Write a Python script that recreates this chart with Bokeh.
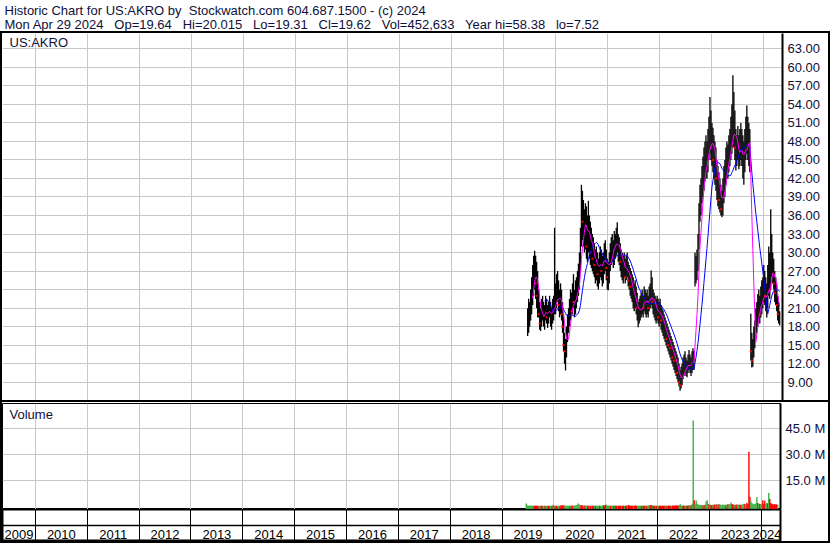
import numpy as np
import pandas as pd
from bokeh.plotting import figure
from bokeh.layouts import column
from bokeh.models import (Range1d, LinearAxis, Grid, FixedTicker, PrintfTickFormatter,
                          Label, ColumnDataSource)
from bokeh.core.properties import value
from bokeh.embed import file_html
from bokeh.resources import INLINE

# ---------------- data (weekly bars) ----------------
START_DATE = "2019-06-21"

HIGHS = [
    21, 22.5, 22, 24, 26, 28, 29.5, 30.3, 29.5, 28.5,
    27, 24, 22, 21, 22.5, 23, 22, 21.5, 23, 22.5,
    21.5, 22, 23, 22, 21, 22.5, 23, 34, 25, 26.5,
    27, 25.5, 24, 25, 24, 22, 20, 17, 16, 18,
    20, 21, 22.5, 24, 23.5, 25, 26.5, 24, 25.5, 26,
    27, 28.2, 30, 34, 41, 40, 38.5, 37, 38, 37.5,
    36, 38.4, 36, 35, 34, 33, 32.5, 31.5, 30.5, 31,
    30, 29, 30, 31, 30.5, 29.5, 30, 31.5, 32, 30.5,
    29, 28.5, 30, 31.5, 32.5, 33, 32, 33.5, 33, 34,
    34.9, 33, 32.5, 31.5, 30.5, 30, 29.5, 30, 29, 29.5,
    30, 28.5, 28, 27.5, 27, 26.5, 26, 25, 25.5, 24.5,
    23.5, 22, 22.5, 23, 23.5, 24, 23, 24.5, 24, 23.5,
    24, 23, 24.5, 25, 27.1, 26, 24, 23.5, 23, 22.5,
    23, 22.5, 22, 22.5, 21.5, 21, 20.6, 20, 19.5, 19,
    18.5, 18, 17.5, 17, 16.5, 16, 15.5, 15, 14.5, 14,
    13.5, 13, 12, 11, 11.5, 12, 13, 13.5, 14, 13,
    12.5, 13.5, 14.2, 13.5, 13, 14, 14.5, 14, 30, 29.5,
    30.5, 33, 38, 41, 42, 44, 45.5, 47, 48, 49,
    48, 50, 52, 55.2, 53, 51, 50.2, 49, 48, 47,
    45, 44, 43, 42, 41, 40, 42, 44, 45, 47,
    48, 47.5, 49, 50, 52, 54, 58.7, 56, 53, 50,
    49, 50.5, 49, 50, 51, 50, 49, 48, 50, 52,
    53.8, 52, 51, 50, 20.1, 17, 16, 18, 19, 21,
    22, 23.3, 24, 23, 24.5, 25.5, 26, 28, 27, 26,
    25, 28, 31, 30, 37, 33, 30, 29, 27, 26,
    25, 23, 22, 20.5,
]

LOWS = [
    16.5, 17, 18, 19, 20, 21.5, 23, 24, 22.5, 21,
    19.5, 19.5, 17.5, 17.3, 18, 19, 18, 17.5, 19, 18.5,
    17.8, 18.5, 19.5, 18, 17.5, 18.5, 19, 20, 20, 21,
    22, 20.5, 19.5, 20, 19, 17, 14, 12, 10.9, 13,
    15.5, 17, 18, 19, 19.5, 20, 21, 19.5, 20, 21,
    22, 23, 24, 27, 31, 32, 31, 30, 30.5, 29,
    28.5, 30, 29, 28, 27.5, 27, 26.5, 26, 25, 25.5,
    24.5, 24, 25, 26, 25.5, 24.5, 25, 26.5, 27, 25.5,
    24, 23.9, 25, 27, 28, 28.5, 27.5, 28, 29, 29.5,
    30, 28.5, 28, 27, 26, 25.5, 25, 26, 25, 25.5,
    26, 24.5, 24, 23, 22.5, 22, 21, 20.5, 21, 20,
    19, 17.9, 18.5, 19, 19.5, 20, 19.5, 20.5, 20, 19.5,
    20, 19.5, 20.5, 21, 21.5, 21, 20, 19.5, 19, 18.5,
    19, 18.5, 18, 18.5, 17.5, 17, 16.5, 16, 15.5, 15,
    14.5, 14, 13.5, 13, 12.5, 12, 11.5, 11, 10.5, 10,
    9.5, 9, 8.3, 7.6, 8, 8.5, 9.5, 10, 10.5, 10,
    9.8, 10.5, 11, 10.5, 10, 10.5, 11, 11, 24.5, 25,
    25.5, 27, 30.5, 35, 36, 38, 39, 40, 41.5, 42,
    42, 43, 45, 46, 45, 44, 43, 42, 41, 40,
    38.5, 37.5, 37, 36.5, 36, 35.7, 36, 38, 39, 41,
    42, 42, 43, 44, 45, 46, 47, 47, 45, 43.3,
    44, 45, 43.5, 44, 45, 44, 42, 41, 43, 45,
    46, 45, 44, 43, 12.5, 11.4, 11.5, 13, 14.5, 16,
    17, 18, 19, 18.5, 19.5, 20, 21, 22, 21.5, 20.5,
    19.5, 21, 23, 22.5, 24, 26, 25, 24, 22, 21.5,
    20.5, 19, 18.5, 18.2,
]

CLOSES = [
    19, 20.5, 21, 23, 25, 27, 28, 28, 25, 23,
    22, 20, 18.5, 19.5, 21, 20, 19, 20.5, 21.5, 19.5,
    20, 21, 20.5, 19.5, 20, 21.5, 21, 23, 22, 24,
    23, 21.5, 22, 23, 20, 18, 15, 14, 13.5, 16,
    18.5, 19, 21, 22.5, 20.5, 23.5, 22, 21, 23.5, 24,
    25.5, 26, 28.5, 32, 37, 35, 34, 33, 36, 31,
    33, 34, 32.5, 30, 31, 29, 29.5, 28, 27, 29,
    26.5, 27.5, 28.5, 29.5, 27, 28, 29, 30, 29, 27.5,
    26, 27, 29, 30, 31.5, 30.5, 31, 32, 30.5, 32.5,
    31.5, 30, 31, 28.5, 28, 27, 28.5, 27.5, 26, 28,
    27, 25.5, 26.5, 24.5, 24, 23, 22.5, 21.5, 23, 21,
    20, 19, 20.5, 21.5, 22, 22.5, 21, 23, 22, 21.5,
    23, 21, 22.5, 23.5, 24, 22, 21, 21.5, 20.5, 20,
    21, 19.5, 20, 20.5, 19, 18.5, 18, 17.5, 17, 16,
    16.5, 15, 15.5, 14.5, 14, 13, 13.5, 12.5, 12, 11.5,
    10.5, 10, 9, 8.5, 9.5, 10.5, 11.5, 12, 11.5, 11,
    11.5, 12.5, 12, 11.5, 12, 13, 12.5, 13, 27, 26.5,
    28, 31, 36, 38, 40, 41, 43, 45, 44, 46,
    44.5, 47, 49, 50, 47, 48, 45, 44, 46, 42,
    40, 41, 38.5, 39, 37, 37.5, 40, 42, 43.5, 44,
    46, 44.5, 47, 46, 49, 50.5, 52, 50, 47, 45,
    47.5, 46, 45, 47, 48, 46, 44, 45, 47, 49.5,
    48, 49, 47, 46.5, 14, 12.5, 14, 16, 17.5, 19,
    20.5, 21, 22.5, 20, 23, 22, 23.5, 25, 23, 22,
    21, 25, 27, 24, 29, 28, 27, 25, 23.5, 23,
    21.5, 20, 19.5, 19.62,
]

VOLUMES_M = [
    1.7, 0.5, 0.4, 0.3, 0.4, 0.5, 0.3, 0.4, 0.3, 0.3,
    0.4, 0.3, 0.3, 0.2, 0.3, 0.4, 0.3, 0.2, 0.3, 0.3,
    0.2, 0.3, 0.3, 0.4, 0.2, 0.3, 0.3, 0.9, 0.4, 0.3,
    0.3, 0.2, 0.3, 0.3, 0.4, 0.5, 0.7, 0.6, 0.5, 0.4,
    0.3, 0.3, 0.4, 0.3, 0.3, 0.4, 0.5, 0.3, 0.4, 0.5,
    0.6, 0.8, 1.6, 1.0, 0.9, 0.7, 0.6, 0.5, 0.4, 0.5,
    0.4, 0.5, 0.4, 0.3, 0.3, 0.4, 0.3, 0.4, 0.3, 0.3,
    0.4, 0.3, 0.3, 0.4, 0.3, 0.3, 0.4, 0.5, 0.6, 0.5,
    0.9, 0.6, 0.4, 0.5, 0.4, 0.3, 0.4, 0.3, 0.4, 0.5,
    0.4, 0.3, 0.4, 0.3, 0.3, 0.4, 0.3, 0.3, 0.4, 0.3,
    0.4, 0.3, 0.5, 0.8, 0.5, 0.4, 0.3, 0.4, 0.3, 0.4,
    0.5, 0.4, 0.3, 0.3, 0.4, 0.3, 0.3, 0.4, 0.3, 0.3,
    0.4, 0.3, 0.4, 0.5, 0.6, 0.7, 0.8, 0.5, 0.4, 0.3,
    0.3, 0.4, 0.3, 0.3, 0.4, 0.3, 0.4, 0.3, 0.3, 0.4,
    0.4, 0.3, 0.4, 0.5, 0.3, 0.4, 0.3, 0.4, 0.5, 0.4,
    0.5, 0.6, 0.4, 0.5, 0.6, 1.2, 0.5, 0.4, 0.5, 0.4,
    0.4, 0.5, 0.4, 0.5, 0.6, 0.5, 0.7, 1.5, 49.8, 3.5,
    1.2, 3.4, 1.5, 1.0, 0.8, 0.9, 0.7, 0.8, 0.6, 0.7,
    0.9, 2.8, 3.6, 1.4, 1.0, 0.9, 0.8, 0.7, 0.9, 1.1,
    0.8, 1.3, 1.0, 0.9, 1.2, 1.1, 0.8, 0.9, 1.0, 0.8,
    0.9, 0.8, 1.0, 1.2, 1.1, 1.4, 2.2, 1.3, 1.0, 0.9,
    0.8, 0.9, 1.0, 0.8, 1.1, 0.9, 0.8, 1.0, 1.2, 1.5,
    1.3, 1.2, 2.0, 1.4, 31.7, 5.5, 3.0, 2.0, 1.5, 1.2,
    1.4, 1.6, 5.4, 2.0, 1.5, 1.3, 1.2, 1.5, 3.5, 1.4,
    3.3, 1.5, 2.0, 1.6, 7.7, 4.2, 2.0, 1.5, 1.2, 1.0,
    1.3, 0.9, 1.1, 0.8,
]

PRICE_TICKS = [9, 12, 15, 18, 21, 24, 27, 30, 33, 36, 39, 42, 45, 48, 51, 54, 57, 60, 63]
VOL_TICKS = [15, 30, 45]
YEARS = list(range(2009, 2025))
FAST_MA_WEEKS = 6
SLOW_MA_WEEKS = 18

NB = "\u00a0"
GAP = NB + NB + " "
HEADER_1 = f"Historic Chart for US:AKRO by{NB} Stockwatch.com 604.687.1500 - (c) 2024"
HEADER_2 = GAP.join(["Mon Apr 29 2024", "Op=19.64", "Hi=20.015", "Lo=19.31", "Cl=19.62",
                     "Vol=452,633", "Year hi=58.38", "lo=7.52"])
PANEL_LABEL = "US:AKRO"
VOLUME_LABEL = "Volume"

# ---------------- ranges ----------------
X_START, X_END = 2009.365, 2024.371
P_LO, P_HI = 6.04, 65.48
V_LO, V_HI = -1.83, 59.68

n = len(CLOSES)
assert len(HIGHS) == n and len(LOWS) == n and len(VOLUMES_M) == n

dates = pd.date_range(START_DATE, periods=n, freq="7D")
t = np.asarray(dates.year + (dates.dayofyear - 1) / np.where(dates.is_leap_year, 366.0, 365.0),
               dtype=float)
closes = pd.Series(CLOSES, dtype=float)
prev = closes.shift(1)
up = ((closes >= prev) | prev.isna()).values
drop = (closes < prev * 0.95).values
ma_fast = closes.rolling(FAST_MA_WEEKS).mean()
ma_slow = closes.rolling(SLOW_MA_WEEKS).mean()
week = 1.0 / 52.18

src = ColumnDataSource(dict(
    t=t, high=HIGHS, low=LOWS, close=CLOSES, vol=VOLUMES_M,
    ma_fast=ma_fast.values, ma_slow=ma_slow.values,
    vcolor=np.where(up, "#3cb043", "#ff0000"),
))
down_src = ColumnDataSource(dict(t=t[drop], close=closes.values[drop]))

FONT = "Liberation Sans"
TXT = "#10103a"
GRID = "#c8c8c8"
W = 826

common = dict(toolbar_location=None, output_backend="svg", x_axis_type=None,
              y_axis_type=None, title_location=None, background_fill_color="white",
              border_fill_color="white", min_border_left=0, min_border_right=46)

x_range = Range1d(X_START, X_END)
year_bounds = YEARS[1:]

# ---------------- header ----------------
hdr = figure(width=W + 4, height=31, x_range=Range1d(0, 1), y_range=Range1d(0, 1),
             toolbar_location=None, output_backend="svg", x_axis_type=None,
             y_axis_type=None, title_location=None, min_border_left=0,
             min_border_right=0, min_border_top=0, min_border_bottom=0,
             outline_line_color=None, background_fill_color="white", border_fill_color="white")
for txt, yy in ((HEADER_1, 20.6), (HEADER_2, 6.8)):
    hdr.add_layout(Label(x=4, y=yy, x_units="screen", y_units="screen", text=txt,
                         text_font=FONT, text_font_size="13px", text_color=TXT,
                         text_baseline="alphabetic"))

# ---------------- price panel ----------------
price = figure(width=W, height=367, x_range=x_range, y_range=Range1d(P_LO, P_HI),
               min_border_top=0, min_border_bottom=0, outline_line_color=None, **common)
price.add_layout(Grid(dimension=0, ticker=FixedTicker(ticks=year_bounds), grid_line_color=GRID))
price.add_layout(Grid(dimension=1, ticker=FixedTicker(ticks=PRICE_TICKS), grid_line_color=GRID))
pax = LinearAxis(ticker=FixedTicker(ticks=PRICE_TICKS),
                 formatter=PrintfTickFormatter(format="%.2f"),
                 axis_line_color="black", axis_line_width=2,
                 major_tick_line_color=None, major_tick_out=0, major_tick_in=0,
                 minor_tick_line_color=None, major_label_standoff=5,
                 major_label_text_font=FONT, major_label_text_font_size="13px",
                 major_label_text_color=TXT)
price.add_layout(pax, "right")
price.segment(x0="t", y0="low", x1="t", y1="high", source=src, line_color="black", line_width=1.3)
price.scatter(x="t", y="close", source=down_src, marker="square", size=2.0,
              fill_color="#ff0000", line_color=None)
price.line(x="t", y="ma_slow", source=src, line_color="#0000ff", line_width=1.0)
price.line(x="t", y="ma_fast", source=src, line_color="#ff00ff", line_width=1.0)
price.add_layout(Label(x=7, y=358.5, x_units="screen", y_units="screen", text=PANEL_LABEL,
                       text_font=FONT, text_font_size="13px", text_color=TXT,
                       text_baseline="alphabetic"))
price_box = column(price, styles={"border-bottom": "2px solid black"})

# ---------------- volume panel ----------------
vol = figure(width=W, height=107, x_range=x_range, y_range=Range1d(V_LO, V_HI),
             min_border_top=1, min_border_bottom=0, outline_line_color="black",
             outline_line_width=1, **common)
vol.add_layout(Grid(dimension=0, ticker=FixedTicker(ticks=year_bounds), grid_line_color=GRID))
vol.add_layout(Grid(dimension=1, ticker=FixedTicker(ticks=VOL_TICKS), grid_line_color=GRID))
vax = LinearAxis(ticker=FixedTicker(ticks=VOL_TICKS), formatter=PrintfTickFormatter(format="%.1f M"),
                 axis_line_color="black", axis_line_width=2,
                 major_tick_line_color=None, major_tick_out=0, major_tick_in=0,
                 minor_tick_line_color=None, major_label_standoff=5,
                 major_label_text_font=FONT, major_label_text_font_size="13px",
                 major_label_text_color=TXT)
vol.add_layout(vax, "right")
vol.vbar(x="t", top="vol", bottom=V_LO, width=week * 1.4, source=src,
         fill_color="vcolor", line_color=None)
vol.add_layout(Label(x=7, y=95, x_units="screen", y_units="screen", text=VOLUME_LABEL,
                     text_font=FONT, text_font_size="13px", text_color=TXT,
                     text_baseline="alphabetic"))

# ---------------- year axis rows ----------------
axf = figure(width=W, height=32, x_range=x_range, y_range=Range1d(0, 2),
             min_border_top=0, min_border_bottom=0, outline_line_color="black",
             outline_line_width=2, **common)
axf.add_layout(Grid(dimension=0, ticker=FixedTicker(ticks=year_bounds), grid_line_color="black"))
axf.add_layout(Grid(dimension=1, ticker=FixedTicker(ticks=[1]), grid_line_color="black",
                    grid_line_width=1.5))
HALF_LABEL = 0.26  # half a year-label's width, in years
centers = [min(max((max(y, X_START) + min(y + 1, X_END)) / 2, X_START + HALF_LABEL),
               X_END - HALF_LABEL) for y in YEARS]
axf.text(x=centers, y=[0.45] * len(YEARS), text=[str(y) for y in YEARS],
         text_align="center", text_baseline="middle", text_font=value(FONT),
         text_font_size="13px", text_color="black")

body = column(price_box, vol, axf, styles={"border": "2px solid black"})
layout = column(hdr, body)

open("out.html", "w").write(file_html(layout, INLINE))
